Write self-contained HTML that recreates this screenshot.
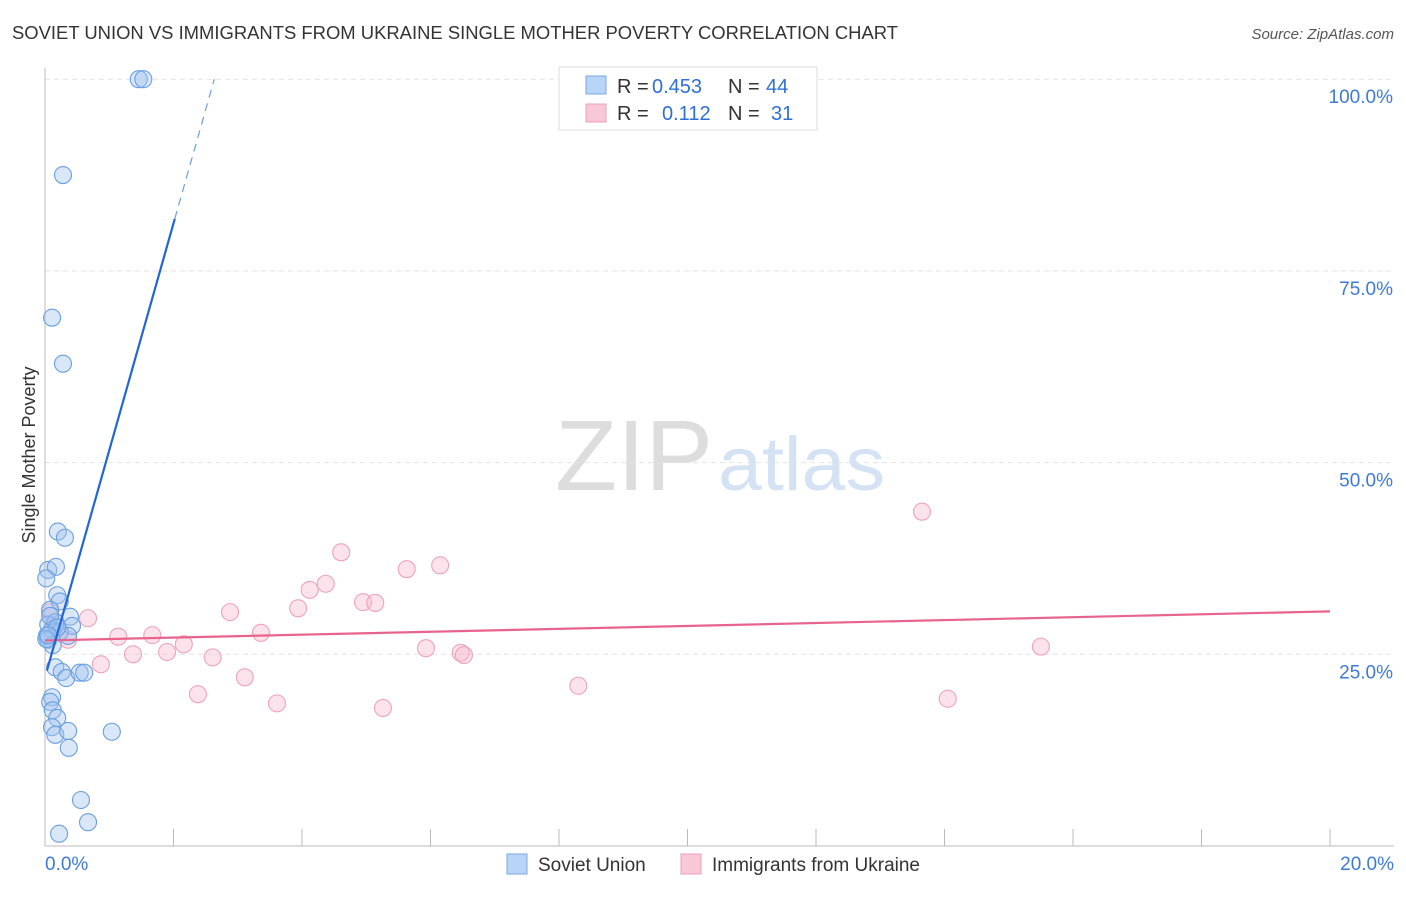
<!DOCTYPE html>
<html><head><meta charset="utf-8"><style>
body{margin:0;background:#fff;font-family:"Liberation Sans",sans-serif}
svg text{font-family:"Liberation Sans",sans-serif}
</style></head><body>
<svg id="c" width="1406" height="892">
<text x="12" y="39" font-size="18" fill="#333" textLength="886" lengthAdjust="spacingAndGlyphs">SOVIET UNION VS IMMIGRANTS FROM UKRAINE SINGLE MOTHER POVERTY CORRELATION CHART</text>
<text x="1394" y="39" font-size="15" fill="#555" text-anchor="end" font-style="italic">Source: ZipAtlas.com</text>
<text x="555" y="490" font-size="100" fill="#ddd" textLength="158" lengthAdjust="spacingAndGlyphs" font-family="Liberation Serif">ZIP</text>
<text x="718" y="490" font-size="76" fill="#d4e2f4" textLength="167" lengthAdjust="spacingAndGlyphs">atlas</text>
<text x="35" y="455" font-size="18" fill="#333" text-anchor="middle" transform="rotate(-90 35 455)">Single Mother Poverty</text>
<g id="grid"></g><g id="marks"></g>
<g>
<rect x="559" y="67" width="258" height="63" fill="#fff" stroke="#ddd"/>
<rect x="586" y="76" width="20" height="18" fill="#b8d4f6" stroke="#7aa8e4"/>
<text x="617" y="93" font-size="20" fill="#333">R =</text>
<text x="652" y="93" font-size="20" fill="#2f6fd6">0.453</text>
<text x="728" y="93" font-size="20" fill="#333">N =</text>
<text x="766" y="93" font-size="20" fill="#2f6fd6">44</text>
<rect x="586" y="104" width="20" height="18" fill="#f8c8d6" stroke="#eea0b8"/>
<text x="617" y="120" font-size="20" fill="#333">R =</text>
<text x="662" y="120" font-size="20" fill="#2f6fd6">0.112</text>
<text x="728" y="120" font-size="20" fill="#333">N =</text>
<text x="771" y="120" font-size="20" fill="#2f6fd6">31</text>
</g>
<g>
<rect x="507" y="854" width="20" height="20" fill="#b8d4f6" stroke="#7aa8e4"/>
<text x="538" y="871" font-size="19" fill="#333">Soviet Union</text>
<rect x="681" y="854" width="20" height="20" fill="#f8c8d6" stroke="#eea0b8"/>
<text x="712" y="871" font-size="19" fill="#333">Immigrants from Ukraine</text>
</g>
</svg>
<script>
const xTicks=[0,20];
const yTicks=[25,50,75,100];
const blueX=[1.46,1.53,0.28,0.11,0.28,0.20,0.31,0.05,0.17,0.02,0.19,0.23,0.08,0.39,0.05,0.42,0.16,0.11,0.03,0.23,0.36,0.05,0.16,0.26,0.33,0.54,0.61,0.11,0.08,0.12,0.19,0.11,0.16,0.36,0.37,1.04,0.56,0.67,0.22,0.12,0.02,0.08,0.19,0.05];
const blueY=[100,100,87.5,68.9,62.9,41.0,40.2,36.0,36.4,34.9,32.7,31.9,30.8,29.9,28.9,28.7,29.2,28.2,27.4,27.9,27.4,26.9,23.3,22.7,21.9,22.6,22.6,19.4,18.8,17.7,16.7,15.5,14.5,15.0,12.8,14.9,6.0,3.1,1.6,26.2,27.0,30.0,28.5,27.5];
const pinkX=[0.08,0.16,0.23,0.36,0.67,0.87,1.14,1.37,1.67,1.90,2.16,2.38,2.61,2.88,3.11,3.36,3.61,3.94,4.12,4.37,4.61,4.95,5.14,5.26,5.63,5.93,6.15,6.47,6.52,8.30,13.65,14.05,15.50];
const pinkY=[30.5,29.2,27.9,26.9,29.7,23.7,27.3,25.0,27.5,25.3,26.3,19.8,24.6,30.5,22.0,27.8,18.6,31.0,33.4,34.2,38.3,31.8,31.7,18.0,36.1,25.8,36.6,25.2,24.9,20.9,43.6,19.2,26.0];
const blueTrend=[22.0,29.6]; // intercept, slope
const pinkTrend=[26.8,0.19];
const X=v=>45+v*1285/20, Y=v=>846-v*7.668;
const NS='http://www.w3.org/2000/svg';
function mk(tag,at,parent){const e=document.createElementNS(NS,tag);for(const k in at)e.setAttribute(k,at[k]);parent.appendChild(e);return e;}
const g=document.getElementById('grid'), m=document.getElementById('marks');
yTicks.forEach(t=>{
 const l=mk('line',{x1:45,x2:1394,y1:Y(t),y2:Y(t),stroke:'#e4e4e4','stroke-dasharray':'5,4'},g);
 
 
 const tx=mk('text',{x:1393,y:Y(t)+24,'font-size':19,fill:'#3d7ad8','text-anchor':'end'},g);tx.textContent=t.toFixed(1)+'%';
 
 
});
const ax=mk('line',{x1:45,x2:1394,y1:846,y2:846,stroke:'#bbb'},g);


const ay=mk('line',{x1:45,x2:45,y1:68,y2:846,stroke:'#bbb'},g);


for(let i=0;i<=10;i++){const tk=mk('line',{x1:X(i*2),x2:X(i*2),y1:829,y2:846,stroke:'#bbb'},g);
 
 }
xTicks.forEach((t,i)=>{const tx=mk('text',{x:i?1394:45,y:870,'font-size':19,fill:'#3d7ad8','text-anchor':i?'end':'start'},g);tx.textContent=t.toFixed(1)+'%';
 
 });
pinkX.forEach((x,i)=>{const c=mk('circle',{cx:X(x),cy:Y(pinkY[i]),r:8.5,fill:'rgba(248,184,204,0.4)',stroke:'#eda3bb','stroke-width':1.1},m);
 
 });
blueX.forEach((x,i)=>{const c=mk('circle',{cx:X(x),cy:Y(blueY[i]),r:8.5,fill:'rgba(160,196,240,0.4)',stroke:'#6a9fe0','stroke-width':1.1},m);
 
 });
const pl=mk('line',{x1:X(0),y1:Y(pinkTrend[0]),x2:X(20),y2:Y(pinkTrend[0]+20*pinkTrend[1]),stroke:'#e8648e','stroke-width':2.2},m);


const xe=2.02, xm=(100-blueTrend[0])/blueTrend[1];
const bl=mk('line',{x1:X(0.03),y1:Y(blueTrend[0]+0.03*blueTrend[1]),x2:X(xe),y2:Y(blueTrend[0]+xe*blueTrend[1]),stroke:'#2166d6','stroke-width':2.2},m);


const bd=mk('line',{x1:X(xe),y1:Y(blueTrend[0]+xe*blueTrend[1]),x2:X(xm),y2:Y(100),stroke:'#6a9fe0','stroke-width':1.2,'stroke-dasharray':'8,6'},m);


</script>
</body></html>
